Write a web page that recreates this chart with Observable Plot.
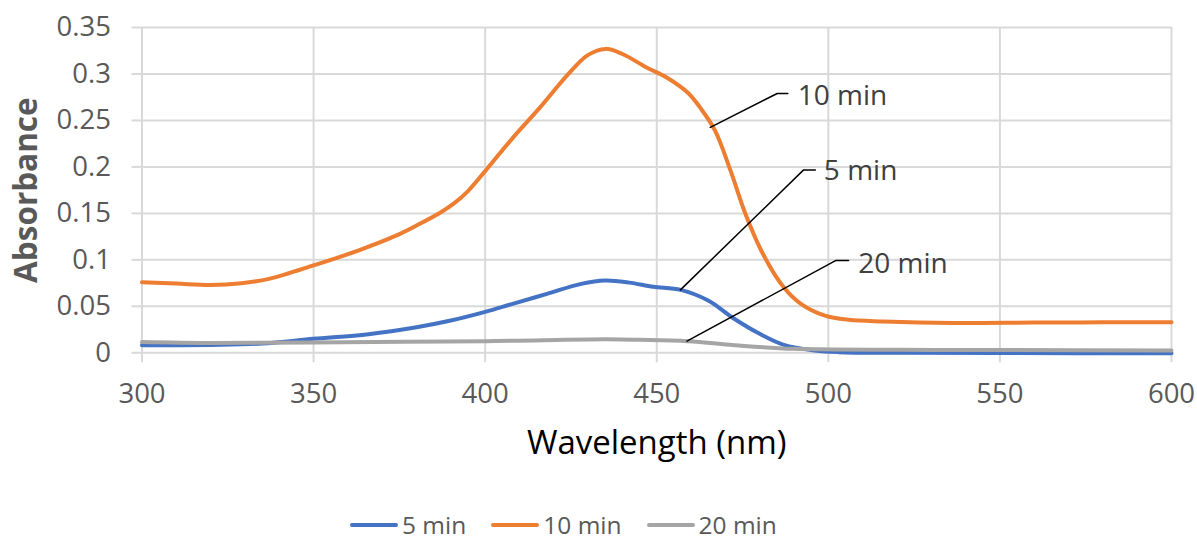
<!DOCTYPE html>
<html>
<head>
<meta charset="utf-8">
<script src="https://cdn.jsdelivr.net/npm/d3@7"></script>
<script src="https://cdn.jsdelivr.net/npm/@observablehq/plot@0.6"></script>
<style>
  html, body { margin: 0; padding: 0; background: #fff; overflow: hidden; }
  #wrap { position: relative; width: 1197px; height: 540px; font-family: "Open Sans", sans-serif; }
  #legend { position: absolute; left: 350px; top: 510px; height: 30px; display: flex; align-items: center; font-size: 24.5px; line-height: 30px; color: #595959; }
  .item { display: flex; align-items: center; margin-right: 25px; }
  .sw { width: 48px; height: 4px; border-radius: 2px; margin-right: 4px; }
</style>
</head>
<body>
<div id="wrap"><div id="chart"></div><div id="legend"></div></div>
<script>
// ---- data ----
const seriesNames = ["5 min", "10 min", "20 min"];
const seriesColors = ["#4472C4", "#ED7D31", "#A5A5A5"];

const wl5 = [300, 320, 335, 350, 366, 380, 390, 400, 408, 418, 428, 435, 442, 449, 457, 465, 472, 480, 487, 496, 503, 521, 550, 600];
const abs5 = [0.008, 0.0085, 0.010, 0.015, 0.020, 0.0275, 0.0347, 0.044, 0.0527, 0.0634, 0.0742, 0.0777, 0.0755, 0.071, 0.0677, 0.0562, 0.038, 0.0204, 0.0086, 0.0025, 0.0007, 0.0, -0.0003, -0.0005];

const wl10 = [300, 310, 320, 329, 337, 350, 363, 374, 380, 387, 391, 395, 400, 408, 416, 424, 430, 435, 440, 447, 453, 459, 463, 467, 471.5, 476, 481, 487, 492, 499, 506, 516, 536, 560, 580, 600];
const abs10 = [0.076, 0.0745, 0.073, 0.0749, 0.0795, 0.094, 0.110, 0.126, 0.137, 0.151, 0.161, 0.174, 0.1955, 0.231, 0.264, 0.299, 0.3205, 0.327, 0.3215, 0.307, 0.296, 0.280, 0.262, 0.239, 0.196, 0.148, 0.106, 0.0705, 0.0527, 0.040, 0.0355, 0.0337, 0.032, 0.0325, 0.0328, 0.033];

const wl20 = [300, 320, 350, 400, 435, 445, 459, 474, 490, 521, 550, 600];
const abs20 = [0.0115, 0.0105, 0.0112, 0.0125, 0.0145, 0.014, 0.0125, 0.0078, 0.0043, 0.0032, 0.003, 0.0025];

const xTicks = [300, 350, 400, 450, 500, 550, 600];
const yTicks = [0, 0.05, 0.1, 0.15, 0.2, 0.25, 0.3, 0.35];
const yTickLabels = ["0", "0.05", "0.1", "0.15", "0.2", "0.25", "0.3", "0.35"];

// data labels with leader lines: anchor point on curve, elbow, end of horizontal, text position
const labelNames = ["10 min", "5 min", "20 min"];
const anchorX = [465.6, 456.9, 458.8];
const anchorY = [0.2426, 0.0677, 0.0125];
const elbowX = [485.1, 492.8, 502.1];
const elbowY = [0.279, 0.1968, 0.0992];
const endX = [488.2, 496.2, 505.9];
const textX = [491.1, 498.7, 508.7];
const textY = [0.2766, 0.196, 0.096];

// ---- build tables ----
const rows = [];
[[wl5, abs5], [wl10, abs10], [wl20, abs20]].forEach(([w, a], i) => {
  w.forEach((x, j) => rows.push({series: seriesNames[i], x, y: a[j]}));
});
const leader = [];
labelNames.forEach((n, i) => {
  leader.push({n, x: anchorX[i], y: anchorY[i]});
  leader.push({n, x: elbowX[i], y: elbowY[i]});
  leader.push({n, x: endX[i], y: elbowY[i]});
});
const labels = labelNames.map((n, i) => ({n, x: textX[i], y: textY[i]}));

const chart = Plot.plot({
  width: 1197,
  height: 480,
  marginLeft: 141.5,
  marginRight: 26,
  marginTop: 27,
  marginBottom: 127.7,
  style: {fontFamily: "Open Sans, sans-serif", fontSize: "27px", background: "#fff"},
  x: {domain: [300, 600]},
  y: {domain: [0, 0.35]},
  color: {domain: seriesNames, range: seriesColors},
  marks: [
    Plot.gridX(xTicks, {stroke: "#d9d9d9", strokeOpacity: 1, strokeWidth: 2}),
    Plot.gridY(yTicks, {stroke: "#d9d9d9", strokeOpacity: 1, strokeWidth: 2}),
    Plot.axisX(xTicks, {tickSize: 10, tickPadding: 21, stroke: "#d9d9d9", strokeWidth: 2, fill: "#595959", fontSize: 27.5, tickFormat: d => String(d), label: null}),
    Plot.axisY(yTicks, {tickSize: 10, tickPadding: 21, stroke: "#d9d9d9", strokeWidth: 2, fill: "#595959", fontSize: 27.5, tickFormat: (d, i) => yTickLabels[i], label: null}),
    Plot.line(rows, {x: "x", y: "y", z: "series", stroke: "series", strokeWidth: 4, curve: "catmull-rom", strokeLinecap: "round"}),
    Plot.line(leader, {x: "x", y: "y", z: "n", stroke: "#000", strokeWidth: 1.5}),
    Plot.text(labels, {x: "x", y: "y", text: "n", textAnchor: "start", fill: "#404040", fontSize: 28}),
    Plot.text(["Wavelength (nm)"], {frameAnchor: "bottom", dy: 91, fill: "#000", fontSize: 33, lineAnchor: "middle"}),
    Plot.text(["Absorbance"], {frameAnchor: "left", dx: -115, rotate: -90, textAnchor: "middle", fill: "#595959", fontSize: 31.5, fontWeight: "bold", lineAnchor: "middle"})
  ]
});
document.getElementById("chart").appendChild(chart);

const legend = document.getElementById("legend");
seriesNames.forEach((n, i) => {
  const it = document.createElement("div");
  it.className = "item";
  const sw = document.createElement("div");
  sw.className = "sw";
  sw.style.background = seriesColors[i];
  const t = document.createElement("span");
  t.textContent = n;
  it.appendChild(sw); it.appendChild(t);
  legend.appendChild(it);
});
</script>
</body>
</html>
